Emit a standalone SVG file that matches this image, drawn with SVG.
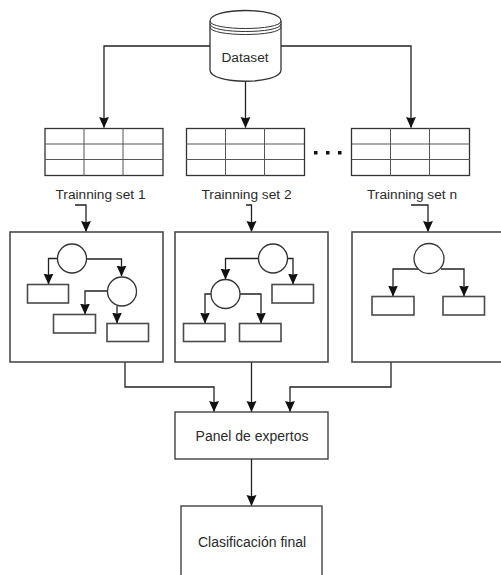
<svg xmlns="http://www.w3.org/2000/svg" width="501" height="575" viewBox="0 0 501 575">
<defs><marker id="a" viewBox="0 0 10 10" refX="9.500" refY="5" markerWidth="11" markerHeight="11" markerUnits="userSpaceOnUse" orient="auto"><path d="M0 0.500L10 5L0 9.500L1 5Z" fill="#111"/></marker></defs>
<style>
.s{fill:#fff;stroke:#333;stroke-width:1.3}
.b{fill:#fff;stroke:#4a4a4a;stroke-width:1.6}
.g{fill:none;stroke:#555;stroke-width:1}
.c{fill:none;stroke:#222;stroke-width:1.3;marker-end:url(#a)}
text{font-family:"Liberation Sans",Arial,sans-serif;font-size:13.700px;fill:#2a2a2a;text-anchor:middle}
</style>
<rect width="501" height="575" fill="#fff"/>
<g id="connectors">
<path class="c" d="M210 46H104V127.500"/>
<path class="c" d="M245.500 81V127.500"/>
<path class="c" d="M281 46H411V127.500"/>
<path class="c" d="M75 205H86V231.500"/>
<path class="c" d="M246 205H251.500V231.500"/>
<path class="c" d="M411 205H428V231.500"/>
<path class="c" d="M125 362V387H214V411.500"/>
<path class="c" d="M251.500 362V411.500"/>
<path class="c" d="M391 362V387H290V411.500"/>
<path class="c" d="M251.500 459V505.500"/>
</g>
<g id="dataset"><path class="s" d="M210 21C210 7 281 7 281 21V70C281 85 210 85 210 70Z"/><path class="g" d="M210 21C210 31 281 31 281 21M210 24C210 34 281 34 281 24M210 27C210 37 281 37 281 27" style="stroke:#333"/><text x="245" y="62">Dataset</text></g>
<g id="table1"><rect class="s" x="45" y="128.500" width="118" height="47"/><path class="g" d="M45 144H163M45 159.500H163M84 128V176M123 128V176"/></g>
<g id="table2"><rect class="s" x="186.500" y="128.500" width="118" height="47"/><path class="g" d="M186 144H304M186 159.500H304M225.500 128V176M264.500 128V176"/></g>
<g id="tablen"><rect class="s" x="351.500" y="128.500" width="118" height="47"/><path class="g" d="M352 144H470M352 159.500H470M390.500 128V176M429.500 128V176"/></g>
<g id="dots" fill="#111"><rect x="314" y="151" width="3.500" height="3.500"/><rect x="326" y="151" width="3.500" height="3.500"/><rect x="338" y="151" width="3.500" height="3.500"/></g>
<g id="label1"><text x="100.500" y="199">Trainning set 1</text></g>
<g id="label2"><text x="246.500" y="199">Trainning set 2</text></g>
<g id="labeln"><text x="412" y="199">Trainning set n</text></g>
<g id="box1"><rect class="b" x="10" y="232" width="153" height="130"/>
<path class="c" d="M57 258.500H48.500V284"/><path class="c" d="M87 259H121.500V276"/><path class="c" d="M107 291H85V314"/><path class="c" d="M117 306V323"/>
<circle class="s" cx="72" cy="258.500" r="14.500"/><circle class="s" cx="122" cy="291.500" r="14.500"/>
<rect class="b" x="27.500" y="284.500" width="41" height="18.500"/><rect class="b" x="53.500" y="314.500" width="42" height="18.500"/><rect class="b" x="107" y="323.500" width="41.500" height="18"/></g>
<g id="box2"><rect class="b" x="175" y="232" width="153" height="130"/>
<path class="c" d="M258 258.500H225.500V279"/><path class="c" d="M288 258.500H293V284"/><path class="c" d="M211 294H205V323"/><path class="c" d="M240 294H261V323"/>
<circle class="s" cx="273" cy="258.500" r="14.500"/><circle class="s" cx="225.500" cy="294" r="14.500"/>
<rect class="b" x="272" y="284.500" width="41.500" height="18.500"/><rect class="b" x="183.500" y="323.500" width="41.500" height="18"/><rect class="b" x="239.500" y="323.500" width="41.500" height="18"/></g>
<g id="boxn"><rect class="b" x="352" y="232" width="153" height="130"/>
<path class="c" d="M418 269H393V296"/><path class="c" d="M441 269H464V296"/>
<circle class="s" cx="429" cy="258.500" r="15"/>
<rect class="b" x="372" y="296.500" width="42" height="18.500"/><rect class="b" x="443" y="296.500" width="41.500" height="18.500"/></g>
<g id="panel"><rect class="s" x="175" y="412" width="153" height="47"/><text x="252" y="441" style="font-size:14px">Panel de expertos</text></g>
<g id="final"><rect class="s" x="181" y="506" width="141" height="72"/><text x="252" y="547" style="font-size:14px">Clasificación final</text></g>
</svg>
